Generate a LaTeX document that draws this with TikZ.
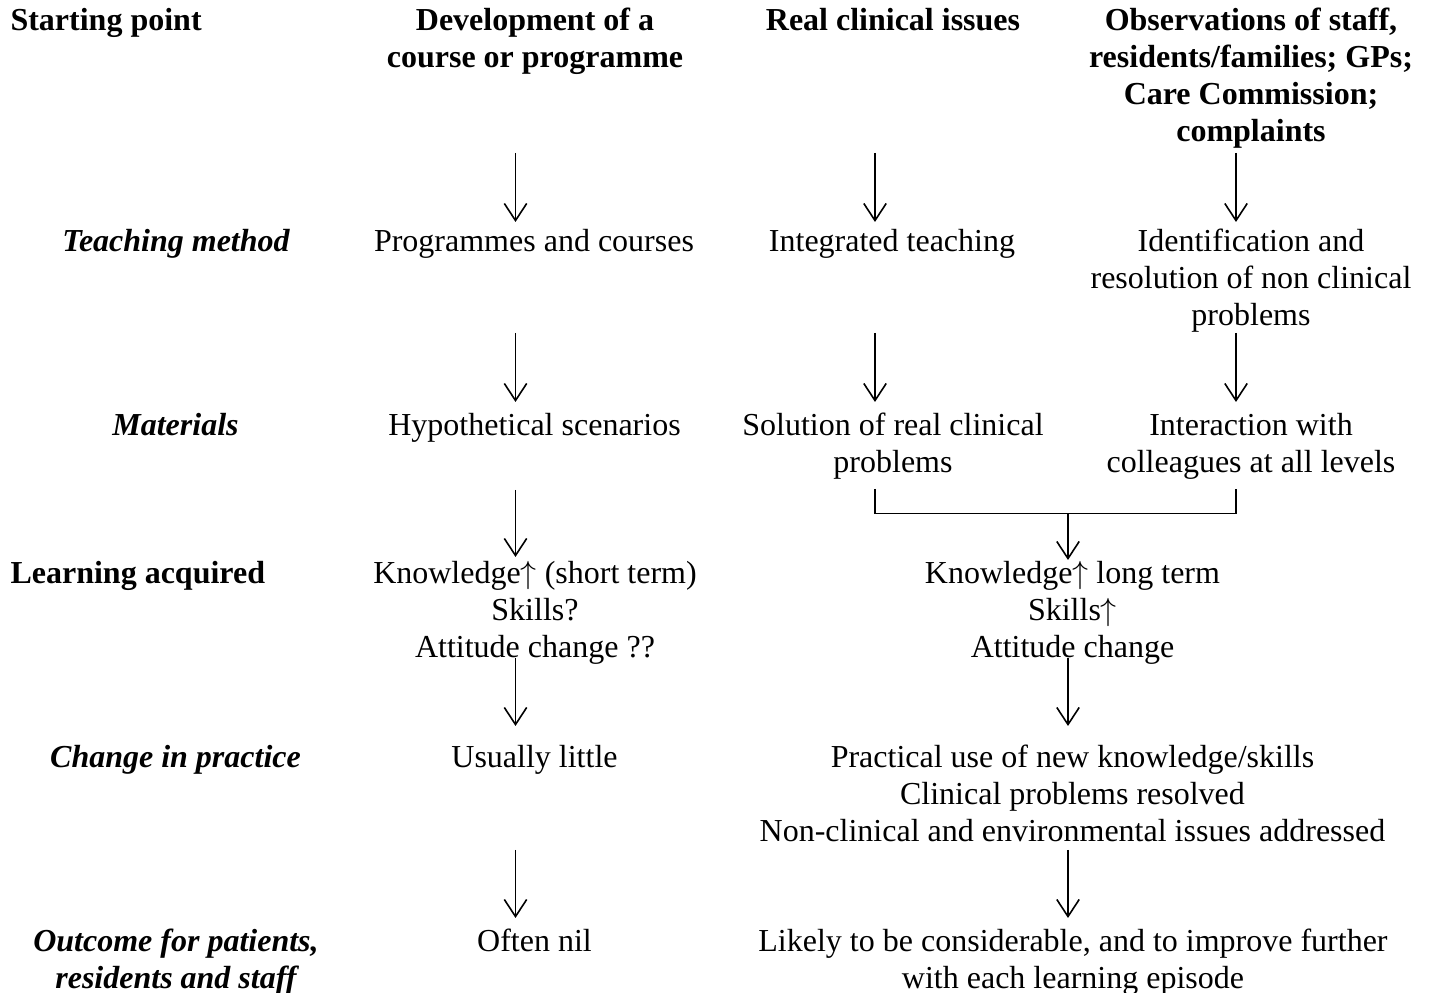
\documentclass[tikz,border=0pt]{standalone}
\usepackage{fontspec}
\setmainfont{Liberation Serif}
\usetikzlibrary{arrows.meta}
\newcommand\fl{\rule{0pt}{10pt}}
\newcommand\upar{\ensuremath{\uparrow}}
\begin{document}
\begin{tikzpicture}[x=0.375pt,y=-0.375pt,
  txt/.style={anchor=north,inner sep=0pt,align=center,yshift=10pt,font=\fontsize{12}{13.875}\selectfont},
  hd/.style={txt,font=\fontsize{12}{13.875}\selectfont\bfseries},
  lhd/.style={hd,anchor=north west,align=left},
  rowlab/.style={txt,font=\fontsize{12}{13.875}\selectfont\bfseries\itshape},
  arr/.style={line width=0.6pt,-{Straight Barb[length=6.4pt,width=8.4pt]}},
  conn/.style={line width=0.6pt}]
\useasboundingbox (0,0) rectangle (1430,993);

% header row
\node[lhd] (start) at (10,30) {\fl Starting point};
\node[hd] (dev) at (535,30) {\fl Development of a\\course or programme};
\node[hd] (real) at (893,30) {\fl Real clinical issues};
\node[hd] (obs) at (1251,30) {\fl Observations of staff,\\residents/families; GPs;\\Care Commission;\\complaints};

% teaching method
\node[rowlab] (tm) at (176,251) {\fl Teaching method};
\node[txt] (prog) at (534,251) {\fl Programmes and courses};
\node[txt] (integ) at (892,251) {\fl Integrated teaching};
\node[txt] (ident) at (1251,251) {\fl Identification and\\resolution of non clinical\\problems};

% materials
\node[rowlab] (mat) at (175.5,435) {\fl Materials};
\node[txt] (hyp) at (534.5,435) {\fl Hypothetical scenarios};
\node[txt] (sol) at (893,435) {\fl Solution of real clinical\\problems};
\node[txt] (inter) at (1251,435) {\fl Interaction with\\colleagues at all levels};

% learning acquired
\node[lhd] (learn) at (10,583) {\fl Learning acquired};
\node[txt] (kshort) at (535,583) {\fl Knowledge\upar{} (short term)\\Skills?\\Attitude change ??};
\node[txt] (klong) at (1072.5,583) {\fl Knowledge\upar{} long term\\Skills\upar\\Attitude change};

% change in practice
\node[rowlab] (chg) at (175.5,767) {\fl Change in practice};
\node[txt] (little) at (534.5,767) {\fl Usually little};
\node[txt] (pract) at (1072.5,767) {\fl Practical use of new knowledge/skills\\Clinical problems resolved\\Non-clinical and environmental issues addressed};

% outcome
\node[rowlab] (out) at (176,951) {\fl Outcome for patients,\\residents and staff};
\node[txt] (nil) at (534.5,951) {\fl Often nil};
\node[txt] (likely) at (1073,951) {\fl Likely to be considerable, and to improve further\\with each learning episode};

% arrows, left column
\draw[arr] (515.5,153) -- (515.5,222);
\draw[arr] (515.5,333) -- (515.5,402);
\draw[arr] (515.5,490) -- (515.5,557);
\draw[arr] (515.5,658) -- (515.5,726);
\draw[arr] (515.5,850) -- (515.5,918);
% middle column
\draw[arr] (875,153) -- (875,222);
\draw[arr] (875,333) -- (875,402);
% right column
\draw[arr] (1236,153) -- (1236,222);
\draw[arr] (1236,333) -- (1236,402);
% bracket join
\draw[conn] (875,489) -- (875,513.5) -- (1236,513.5) -- (1236,489);
\coordinate (join) at (1068,513.5);
\draw[arr] (join) -- (1068,560);
\draw[arr] (1068,658) -- (1068,726);
\draw[arr] (1068,850) -- (1068,918);
\end{tikzpicture}
\end{document}
